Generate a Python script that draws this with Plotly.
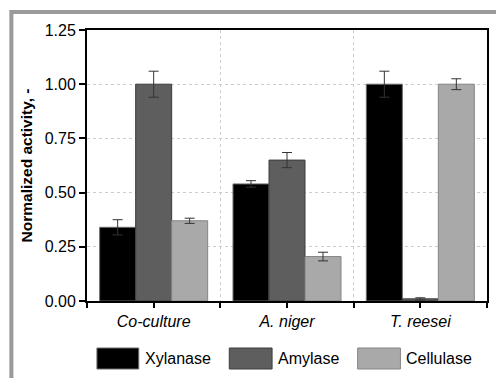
import plotly.graph_objects as go

categories = ["Co-culture", "A. niger", "T. reesei"]
series_names = ["Xylanase", "Amylase", "Cellulase"]
xylanase = [0.34, 0.54, 1.00]
xylanase_err = [0.035, 0.015, 0.06]
amylase = [1.00, 0.65, 0.01]
amylase_err = [0.06, 0.035, 0.005]
cellulase = [0.37, 0.205, 1.00]
cellulase_err = [0.012, 0.02, 0.025]
y_ticks = [0.00, 0.25, 0.50, 0.75, 1.00, 1.25]

fill_colors = ["#000000", "#5e5e5e", "#a9a9a9"]
line_colors = ["#6a6a6a", "#3c3c3c", "#858585"]
values = [xylanase, amylase, cellulase]
errors = [xylanase_err, amylase_err, cellulase_err]

W, H = 496, 378
L, R, T, B = 87, 7, 30, 77
pw, ph = W - L - R, H - T - B
FONT = "Arial, Liberation Sans, sans-serif"


def px_x(x):
    return (x - L) / pw


def px_y(y):
    return (H - B - y) / ph


xpos = list(range(len(categories)))
fig = go.Figure()
for name, v, e, fc, lc in zip(series_names, values, errors, fill_colors, line_colors):
    fig.add_trace(go.Bar(
        x=xpos, y=v, name=name,
        marker=dict(color=fc, line=dict(color=lc, width=1)),
        error_y=dict(type="data", array=e, visible=True, color="#333333",
                     thickness=1, width=5),
        showlegend=False,
    ))

shapes = [
    dict(type="rect", xref="paper", yref="paper",
         x0=px_x(11), x1=px_x(540), y0=px_y(12), y1=px_y(420),
         line=dict(color="#9a9a9a", width=4), layer="below"),
]
annotations = []
legend_boxes = [(97, 139), (230, 273), (359, 402)]
for (x0, x1), name, fc, lc in zip(legend_boxes, series_names, fill_colors, line_colors):
    shapes.append(dict(type="rect", xref="paper", yref="paper",
                       x0=px_x(x0), x1=px_x(x1), y0=px_y(369), y1=px_y(348),
                       fillcolor=fc, line=dict(color=lc, width=1)))
    annotations.append(dict(xref="paper", yref="paper", x=px_x(x1 + 4), y=px_y(358.5),
                            text=name, showarrow=False, xanchor="left", yanchor="middle",
                            font=dict(family=FONT, size=16, color="#000000")))

fig.update_layout(
    width=W, height=H,
    margin=dict(l=L, r=R, t=T, b=B, pad=0),
    paper_bgcolor="white", plot_bgcolor="white",
    barmode="group", bargap=0.19, bargroupgap=0,
    font=dict(family=FONT, size=16, color="#000000"),
    shapes=shapes, annotations=annotations,
    showlegend=False,
)
fig.update_xaxes(
    range=[-0.5, len(categories) - 0.5],
    tickmode="array", tickvals=xpos,
    ticktext=["<i>%s</i>" % c for c in categories],
    ticks="outside", ticklen=5, tickwidth=1.5, tickcolor="#000000",
    showgrid=False, zeroline=False,
    showline=True, linecolor="#000000", linewidth=2, mirror=True,
    tickfont=dict(family=FONT, size=16),
    minor=dict(tickmode="array",
               tickvals=[i - 0.5 for i in range(len(categories) + 1)],
               ticks="outside", ticklen=5, tickwidth=1.5, tickcolor="#000000",
               showgrid=True, gridcolor="#cccccc", griddash="dot", gridwidth=1),
)
fig.update_yaxes(
    range=[0, 1.25],
    tickmode="array", tickvals=y_ticks, tickformat=".2f",
    ticks="outside", ticklen=6, tickwidth=1.5, tickcolor="#000000",
    showgrid=True, gridcolor="#cccccc", griddash="dot", gridwidth=1,
    zeroline=False,
    showline=True, linecolor="#000000", linewidth=2, mirror=True,
    tickfont=dict(family=FONT, size=16),
    title=dict(text="<b>Normalized activity, -</b>", font=dict(family=FONT, size=15.5),
               standoff=8),
)

fig.write_html("out.html")
